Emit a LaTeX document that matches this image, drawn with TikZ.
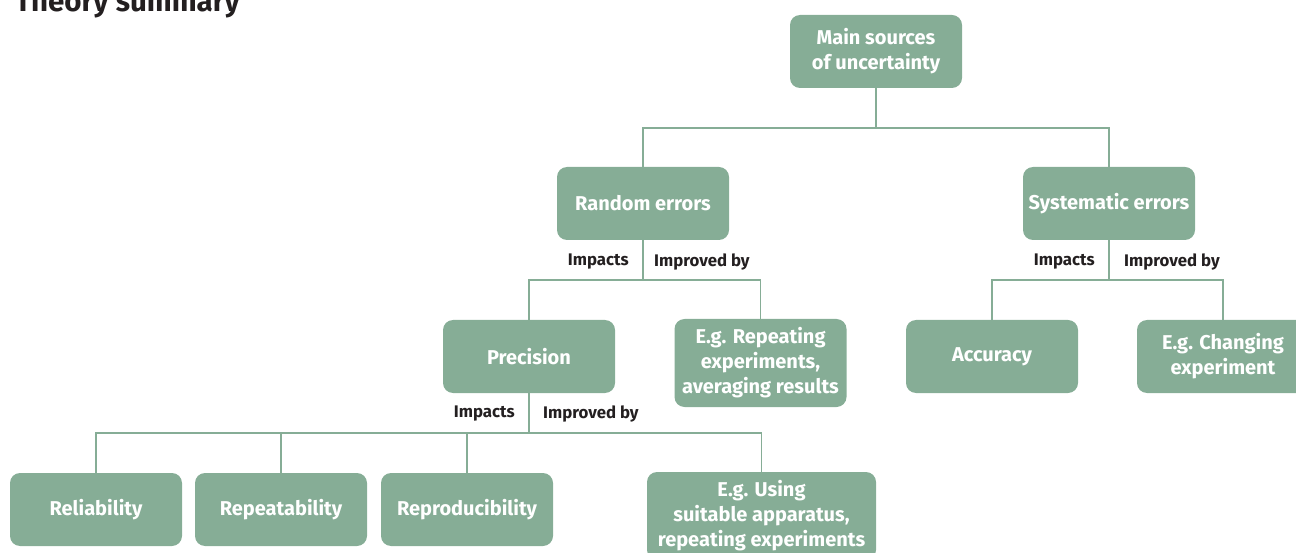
\documentclass[tikz,border=0pt]{standalone}
\usepackage{fontspec}
\setmainfont{Fira Sans}
\definecolor{boxgreen}{HTML}{86AD96}
\definecolor{titlegray}{HTML}{231F20}
\tikzset{
  topic/.style={draw=none,fill=boxgreen,rounded corners=10pt,text=white,
    minimum width=172pt,minimum height=73pt,align=center,inner sep=2pt,
    font=\fontsize{20}{25}\selectfont\bfseries},
  tall/.style={minimum height=88pt},
  link/.style={draw=boxgreen,line width=1.4pt},
  tag/.style={inner sep=0pt,text=titlegray,font=\fontsize{16.8}{18}\selectfont\bfseries}
}
\begin{document}
\begin{tikzpicture}[x=1pt,y=-1pt]
      \useasboundingbox (0,0) rectangle (1296,553);
      \node[anchor=base west,inner sep=0pt,text=titlegray,font=\fontsize{29.5}{32}\selectfont\bfseries] (title) at (15,12) {Theory summary};
      % top level
      \node[topic] (main) at (876,51.5) {Main sources\\of uncertainty};
      \node[topic] (rand) at (643,203.5) {Random errors};
      \node[topic] (syst) at (1109,203.5) {Systematic errors};
      % second level
      \node[topic] (prec) at (529,356.5) {Precision};
      \node[topic,tall] (rep) at (760.5,363) {E.g. Repeating\\experiments,\\averaging results};
      \node[topic] (acc) at (992,356.5) {Accuracy};
      \node[topic] (chg) at (1223,356.5) {E.g. Changing\\experiment};
      % third level
      \node[topic] (rel) at (96,509.5) {Reliability};
      \node[topic] (rpt) at (281,509.5) {Repeatability};
      \node[topic] (rpd) at (467,509.5) {Reproducibility};
      \node[topic,tall,minimum width=229pt] (use) at (761.5,516) {E.g. Using\\suitable apparatus,\\repeating experiments};
      % junctions
      \coordinate (mj) at (876,128);
      \coordinate (rj) at (643,280);
      \coordinate (sj) at (1109,280);
      \coordinate (pj) at (529,433);
      \draw[link] (main.south) -- (mj);
      \draw[link] (rand.north) |- (mj) -| (syst.north);
      \draw[link] (rand.south) -- (rj);
      \draw[link] (prec.north) |- (rj) -| (rep.north);
      \draw[link] (syst.south) -- (sj);
      \draw[link] (acc.north) |- (sj) -| (chg.north);
      \draw[link] (prec.south) -- (pj);
      \draw[link] (rel.north) |- (pj) -| (use.north);
      \draw[link] (rpt.north) -- (rpt.north |- pj);
      \draw[link] (rpd.north) -- (rpd.north |- pj);
      % labels
      \node[tag,anchor=east] (ri) at (629,262) {Impacts};
      \node[tag,anchor=west] (rb) at (654,262) {Improved by};
      \node[tag,anchor=east] (si) at (1095,262) {Impacts};
      \node[tag,anchor=west] (sb) at (1124,262) {Improved by};
      \node[tag,anchor=east] (pi) at (515,414) {Impacts};
      \node[tag,anchor=west] (pb) at (543,414) {Improved by};
\end{tikzpicture}
\end{document}
